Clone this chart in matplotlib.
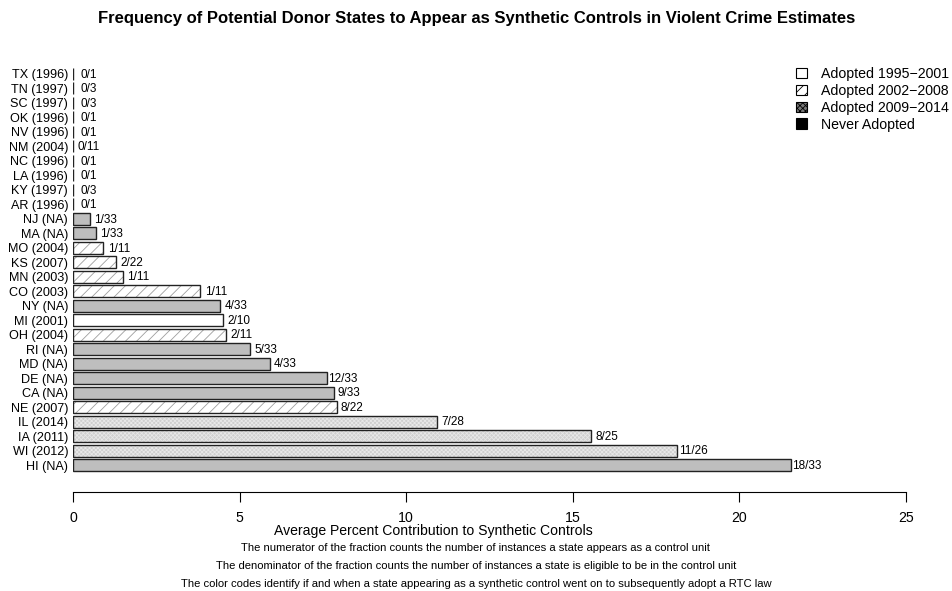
import matplotlib
matplotlib.use("Agg")
import matplotlib.pyplot as plt
from matplotlib.patches import Patch

plt.rcParams['font.family'] = ['Liberation Sans', 'DejaVu Sans']
plt.rcParams['hatch.linewidth'] = 0.6

# Data (bottom to top)
states = ["HI (NA)", "WI (2012)", "IA (2011)", "IL (2014)", "NE (2007)", "CA (NA)", "DE (NA)",
          "MD (NA)", "RI (NA)", "OH (2004)", "MI (2001)", "NY (NA)", "CO (2003)", "MN (2003)",
          "KS (2007)", "MO (2004)", "MA (NA)", "NJ (NA)", "AR (1996)", "KY (1997)", "LA (1996)",
          "NC (1996)", "NM (2004)", "NV (1996)", "OK (1996)", "SC (1997)", "TN (1997)", "TX (1996)"]
values = [21.55, 18.14, 15.54, 10.93, 7.91, 7.82, 7.62, 5.91, 5.31, 4.60, 4.50, 4.42, 3.82, 1.50,
          1.30, 0.91, 0.69, 0.51, 0, 0, 0, 0, 0, 0, 0, 0, 0, 0]
fractions = ["18/33", "11/26", "8/25", "7/28", "8/22", "9/33", "12/33", "4/33", "5/33", "2/11",
             "2/10", "4/33", "1/11", "1/11", "2/22", "1/11", "1/33", "1/33", "0/1", "0/3", "0/1",
             "0/1", "0/11", "0/1", "0/1", "0/3", "0/3", "0/1"]
groups = ["never", "2009", "2009", "2009", "2002", "never", "never", "never", "never", "2002",
          "1995", "never", "2002", "2002", "2002", "2002", "never", "never", "1995", "1995", "1995",
          "1995", "2002", "1995", "1995", "1995", "1995", "1995"]
legend_labels = ["Adopted 1995\u22122001", "Adopted 2002\u22122008", "Adopted 2009\u22122014", "Never Adopted"]

styles = {
    "1995": dict(facecolor="white", hatch=None, hc=None),
    "2002": dict(facecolor="white", hatch="///", hc=(0.62, 0.62, 0.62, 1.0)),
    "2009": dict(facecolor="#cfcfcf", hatch="xxxxxxxx", hc=(0.91, 0.91, 0.91, 1.0)),
    "never": dict(facecolor="#bebebe", hatch=None, hc=None),
}

W, H = 953, 591
fig = plt.figure(figsize=(W / 100, H / 100), dpi=100)
ax = fig.add_axes([73 / W, (H - 473.7) / H, (906 - 73) / W, (473.7 - 65.3) / H])

ypos = list(range(len(states)))
for y, v, g in zip(ypos, values, groups):
    st = styles[g]
    b = ax.barh(y, v, height=0.83, color=st["facecolor"], edgecolor="#222222", linewidth=1.0)
    if st["hatch"]:
        for p in b:
            p.set_hatch(st["hatch"])
            p._hatch_color = st["hc"]
for y, v, f in zip(ypos, values, fractions):
    ax.text(v + 0.47, y - 0.05, f, ha="center", va="center", fontsize=8.5)

ax.set_xlim(0, 25)
ax.set_ylim(-0.6, len(states) - 0.4)
ax.set_yticks(ypos)
ax.set_yticklabels(states, fontsize=9.1)
ax.tick_params(axis="y", length=0, pad=3.5)
ax.set_xticks([0, 5, 10, 15, 20, 25])
ax.tick_params(axis="x", labelsize=10.2, length=7, pad=7, width=0.8)
for s in ["top", "right", "left"]:
    ax.spines[s].set_visible(False)
ax.spines["bottom"].set_position(("outward", 13.2))
ax.spines["bottom"].set_linewidth(0.8)
ax.set_xlabel("Average Percent Contribution to Synthetic Controls", fontsize=10.1)
ax.xaxis.set_label_coords((433 - 73) / (906 - 73), -(531 - 473.7) / (473.7 - 65.3))
ax.xaxis.label.set_va("center")

fig.text(477 / W, 1 - 19 / H, "Frequency of Potential Donor States to Appear as Synthetic Controls in Violent Crime Estimates",
         ha="center", va="center", fontsize=12, fontweight="bold")
captions = ["The numerator of the fraction counts the number of instances a state appears as a control unit",
            "The denominator of the fraction counts the number of instances a state is eligible to be in the control unit",
            "The color codes identify if and when a state appearing as a synthetic control went on to subsequently adopt a RTC law"]
for i, c in enumerate(captions):
    fig.text(476 / W, 1 - (548 + 18 * i) / H, c, ha="center", va="center", fontsize=8.1)

handles = [Patch(facecolor="white", edgecolor="black", linewidth=0.8),
           Patch(facecolor="white", edgecolor="black", hatch="///", linewidth=0.8),
           Patch(facecolor="#777777", edgecolor="black", hatch="xxxxxx", linewidth=0.8),
           Patch(facecolor="black", edgecolor="black", linewidth=0.8)]
fig.legend(handles, legend_labels, loc="upper left", bbox_to_anchor=(796 / W, 1 - 67 / H),
           frameon=False, fontsize=10.2, handlelength=0.75, handleheight=0.75, handletextpad=1.0,
           labelspacing=0.2, borderpad=0, borderaxespad=0)

fig.savefig("out.png", dpi=100)
